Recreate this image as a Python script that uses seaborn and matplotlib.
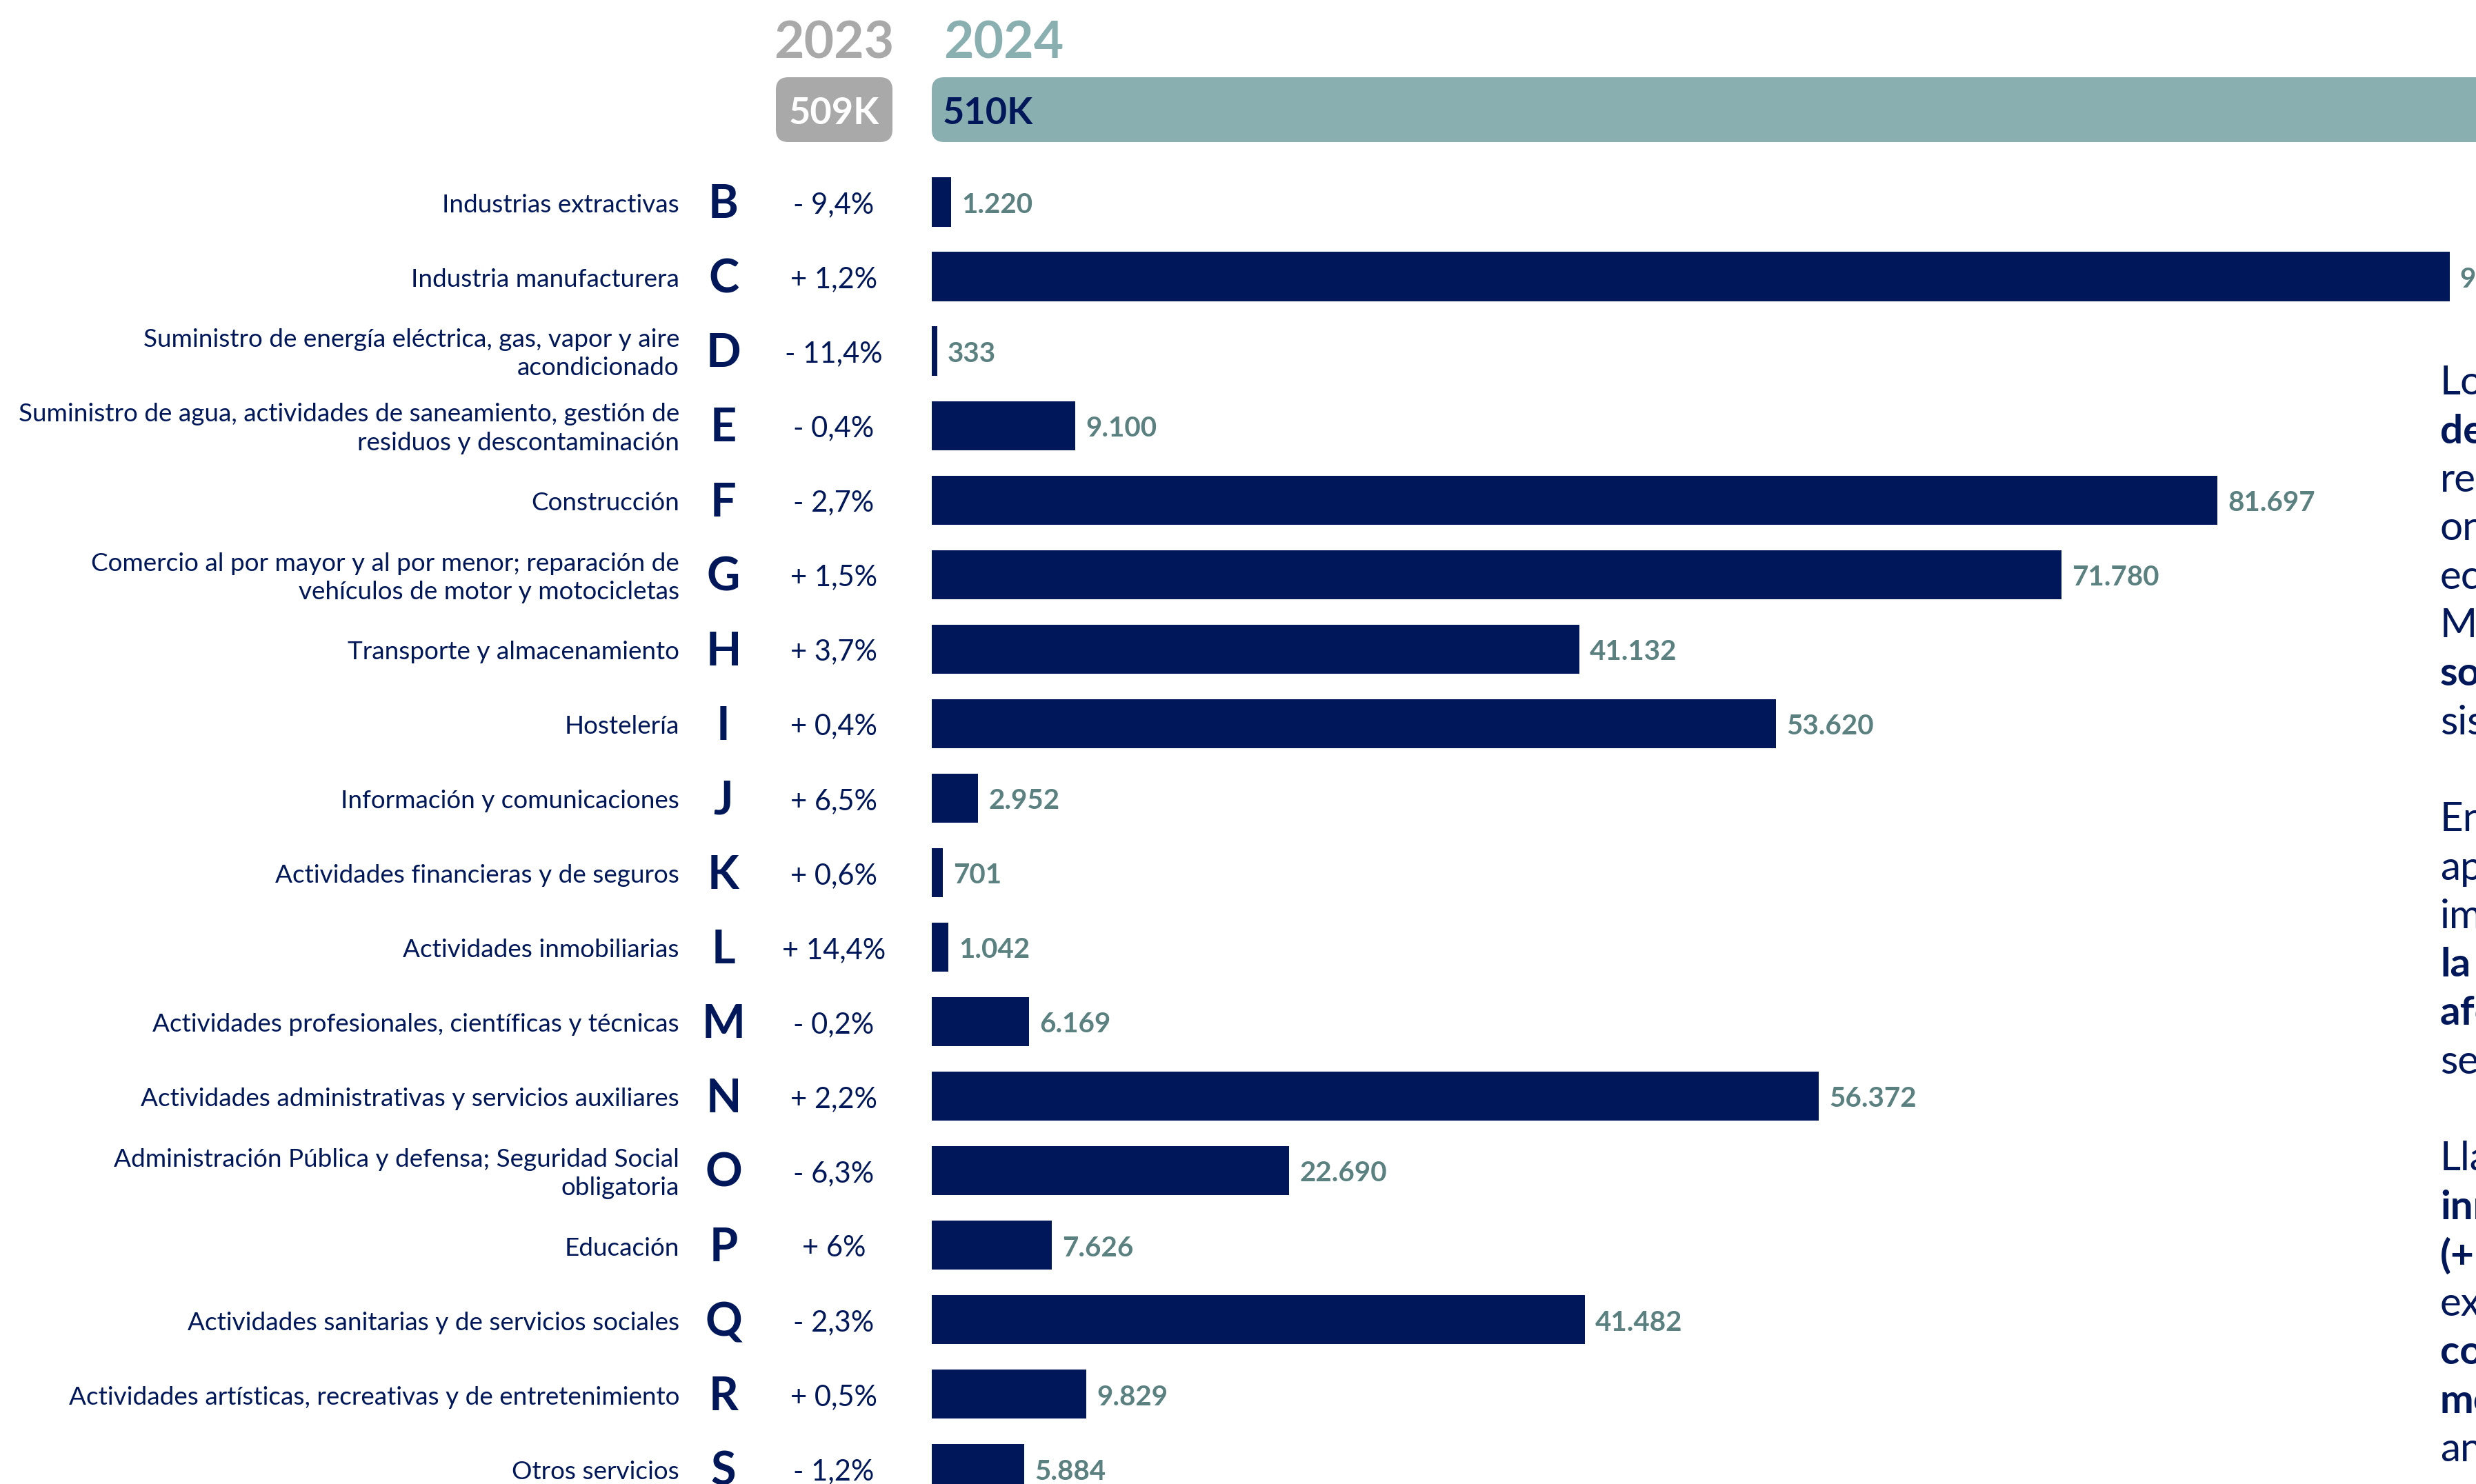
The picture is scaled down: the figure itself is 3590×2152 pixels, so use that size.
import matplotlib
matplotlib.use("Agg")
import matplotlib.pyplot as plt
import pandas as pd
import seaborn as sns
from matplotlib.patches import FancyBboxPatch
from matplotlib.transforms import blended_transform_factory

# --- data -------------------------------------------------------------
letters = ["B", "C", "D", "E", "F", "G", "H", "I", "J", "K", "L", "M",
           "N", "O", "P", "Q", "R", "S"]
sectors = [
    "Industrias extractivas",
    "Industria manufacturera",
    "Suministro de energía eléctrica, gas, vapor y aire\nacondicionado",
    "Suministro de agua, actividades de saneamiento, gestión de\nresiduos y descontaminación",
    "Construcción",
    "Comercio al por mayor y al por menor; reparación de\nvehículos de motor y motocicletas",
    "Transporte y almacenamiento",
    "Hostelería",
    "Información y comunicaciones",
    "Actividades financieras y de seguros",
    "Actividades inmobiliarias",
    "Actividades profesionales, científicas y técnicas",
    "Actividades administrativas y servicios auxiliares",
    "Administración Pública y defensa; Seguridad Social\nobligatoria",
    "Educación",
    "Actividades sanitarias y de servicios sociales",
    "Actividades artísticas, recreativas y de entretenimiento",
    "Otros servicios",
]
afiliados_2024 = [1220, 96430, 333, 9100, 81697, 71780, 41132, 53620, 2952,
                  701, 1042, 6169, 56372, 22690, 7626, 41482, 9829, 5884]
var_pct = [-9.4, 1.2, -11.4, -0.4, -2.7, 1.5, 3.7, 0.4, 6.5, 0.6, 14.4, -0.2,
           2.2, -6.3, 6.0, -2.3, 0.5, -1.2]
years = ["2023", "2024"]
totals_k = [509, 510]

# side text (cut off by the right edge of the picture)
side_lines = ["Lo", "de", "re", "on", "ec", "M", "so", "sis", "",
              "En", "ap", "im", "la", "afe", "se", "",
              "Lla", "inn", "(+", "ex", "co", "me", "an"]
side_bold = [0, 1, 0, 0, 0, 0, 1, 0, 0,
             0, 0, 0, 1, 1, 0, 0,
             0, 1, 1, 0, 1, 1, 0]

# --- style ------------------------------------------------------------
NAVY = "#00175a"
TEAL_TXT = "#5a8080"
GREY = "#a9a9a9"
TEAL = "#8aafb0"

sns.set_style("white")
plt.rcParams["font.family"] = ["Lato", "DejaVu Sans"]

W, H, DPI = 3591, 2152, 100
fig = plt.figure(figsize=(W / DPI, H / DPI), dpi=DPI)


def fx(px):
    return px / W


def fy(py):
    return 1 - py / H


def fmt_num(v):
    return f"{v:,}".replace(",", ".")


def fmt_pct(p):
    sign = "+" if p >= 0 else "-"
    txt = f"{abs(p):g}".replace(".", ",")
    return f"{sign} {txt}%"


# bars: axis starts where bars start and runs past the right edge
x0 = 1351
ax = fig.add_axes([fx(x0), 0, 1 - fx(x0), 1])
df = pd.DataFrame({"letra": letters, "afiliados": afiliados_2024})
sns.barplot(data=df, x="afiliados", y="letra", orient="h", color=NAVY,
            saturation=1, width=0.66, linewidth=0, ax=ax)
ax.set_xlim(0, 98160)
ax.set_ylim(17.205, -2.712)
ax.axis("off")

dy = 0.04  # small nudge so text sits on the bar centre line
tr = blended_transform_factory(fig.transFigure, ax.transData)
for i, (sec, let, v, p) in enumerate(zip(sectors, letters, afiliados_2024, var_pct)):
    ax.text(fx(985), i + dy, sec, transform=tr, ha="right", va="center",
            multialignment="right", fontsize=26.6, color=NAVY, linespacing=1.3)
    ax.text(fx(1049), i + dy, let, transform=tr, ha="center", va="center",
            fontsize=48, fontweight="bold", color=NAVY)
    ax.text(fx(1209), i + dy, fmt_pct(p), transform=tr, ha="center", va="center",
            fontsize=30, color=NAVY)
    ax.annotate(fmt_num(v), (v, i + dy), xytext=(11, 0), textcoords="offset points",
                ha="left", va="center", fontsize=29, fontweight="bold",
                color=TEAL_TXT)

# header: years + total boxes
fig.text(fx(1209), fy(63), years[0], ha="center", va="center", fontsize=54,
         fontweight="bold", color=GREY)
fig.text(fx(1368), fy(63), years[1], ha="left", va="center", fontsize=54,
         fontweight="bold", color=TEAL)

box_y = (H - 206) / DPI
box_h = 94 / DPI
fig.patches.append(FancyBboxPatch((1125 / DPI, box_y), 169 / DPI, box_h,
                                  boxstyle="round,pad=0,rounding_size=0.18",
                                  transform=fig.dpi_scale_trans, fc=GREY, ec="none"))
fig.patches.append(FancyBboxPatch((x0 / DPI, box_y), 2400 / DPI, box_h,
                                  boxstyle="round,pad=0,rounding_size=0.18",
                                  transform=fig.dpi_scale_trans, fc=TEAL, ec="none"))
fig.text(fx(1209), fy(165), f"{totals_k[0]}K", ha="center", va="center",
         fontsize=39, fontweight="bold", color="white")
fig.text(fx(1367), fy(165), f"{totals_k[1]}K", ha="left", va="center",
         fontsize=39, fontweight="bold", color=NAVY)

# side text column
for k, (line, b) in enumerate(zip(side_lines, side_bold)):
    if not line:
        continue
    fig.text(fx(3538), fy(556 + 70.3 * k), line, ha="left", va="center",
             fontsize=42, fontweight="bold" if b else "normal", color=NAVY)

fig.savefig("out.png", dpi=DPI)
